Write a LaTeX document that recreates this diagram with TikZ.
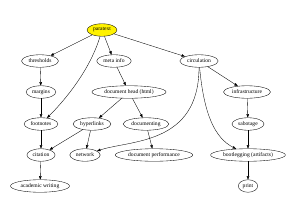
\documentclass[tikz,border=0pt]{standalone}
\usepackage{fontspec}
\setmainfont{Liberation Serif}
\usepackage{tikz}
\usetikzlibrary{arrows.meta, shapes.geometric}

\begin{document}
\begin{tikzpicture}[
    x=1bp, y=-1bp,
    every node/.style={font=\fontsize{5.6}{6.5}\selectfont},
    topic/.style={draw, ellipse, line width=0.35pt, inner xsep=1.6pt, inner ysep=0pt, minimum height=12.5bp, fill=#1},
    topic/.default=white,
    arr/.style={-{Triangle[length=3.5pt, width=2.6pt]}, line width=0.35pt, color=black},
]
    \useasboundingbox (0,0) rectangle (300,208);

    % top
    \node[topic=yellow] (paratext) at (102,30) {paratext};

    % first row
    \node[topic] (thresholds) at (40,61) {thresholds};
    \node[topic] (metainfo) at (114,61) {meta info};
    \node[topic] (circulation) at (199,61) {circulation};

    % second row
    \node[topic] (margins) at (41,92) {margins};
    \node[topic] (dochead) at (129,92) {document head (html)};
    \node[topic] (infra) at (247,92) {infrastructure};

    % third row
    \node[topic] (footnotes) at (41,124) {footnotes};
    \node[topic] (hyperlinks) at (92,124) {hyperlinks};
    \node[topic] (documenting) at (146,124) {documenting};
    \node[topic] (sabotage) at (248,124) {sabotage};

    % fourth row
    \node[topic] (citation) at (41,155) {citation};
    \node[topic] (network) at (85,155) {network};
    \node[topic] (docperf) at (154,155) {document performance};
    \node[topic] (bootleg) at (248,155) {bootlegging (artifacts)};

    % bottom row
    \node[topic] (academic) at (40,186) {academic writing};
    \node[topic] (print) at (248,186) {print};

    % edges
    \draw[arr] (paratext) -- (thresholds);
    \draw[arr] (paratext) -- (metainfo);
    \draw[arr] (paratext) -- (circulation);
    \draw[arr] (paratext) .. controls (90,70) and (65,100) .. (footnotes);
    \draw[arr] (thresholds) -- (margins);
    \draw[arr] (margins) -- (footnotes);
    \draw[arr] (metainfo) -- (dochead);
    \draw[arr] (dochead) -- (hyperlinks);
    \draw[arr] (dochead) -- (documenting);
    \draw[arr] (footnotes) -- (citation);
    \draw[arr] (hyperlinks) -- (citation);
    \draw[arr] (hyperlinks) -- (network);
    \draw[arr] (citation) -- (academic);
    \draw[arr] (documenting) -- (docperf);
    \draw[arr] (circulation) -- (infra);
    \draw[arr] (circulation) .. controls (199,145) and (130,140) .. (network);
    \draw[arr] (circulation) .. controls (204,115) and (215,138) .. (bootleg);
    \draw[arr] (infra) -- (sabotage);
    \draw[arr] (sabotage) -- (bootleg);
    \draw[arr] (bootleg) -- (print);
\end{tikzpicture}
\end{document}
